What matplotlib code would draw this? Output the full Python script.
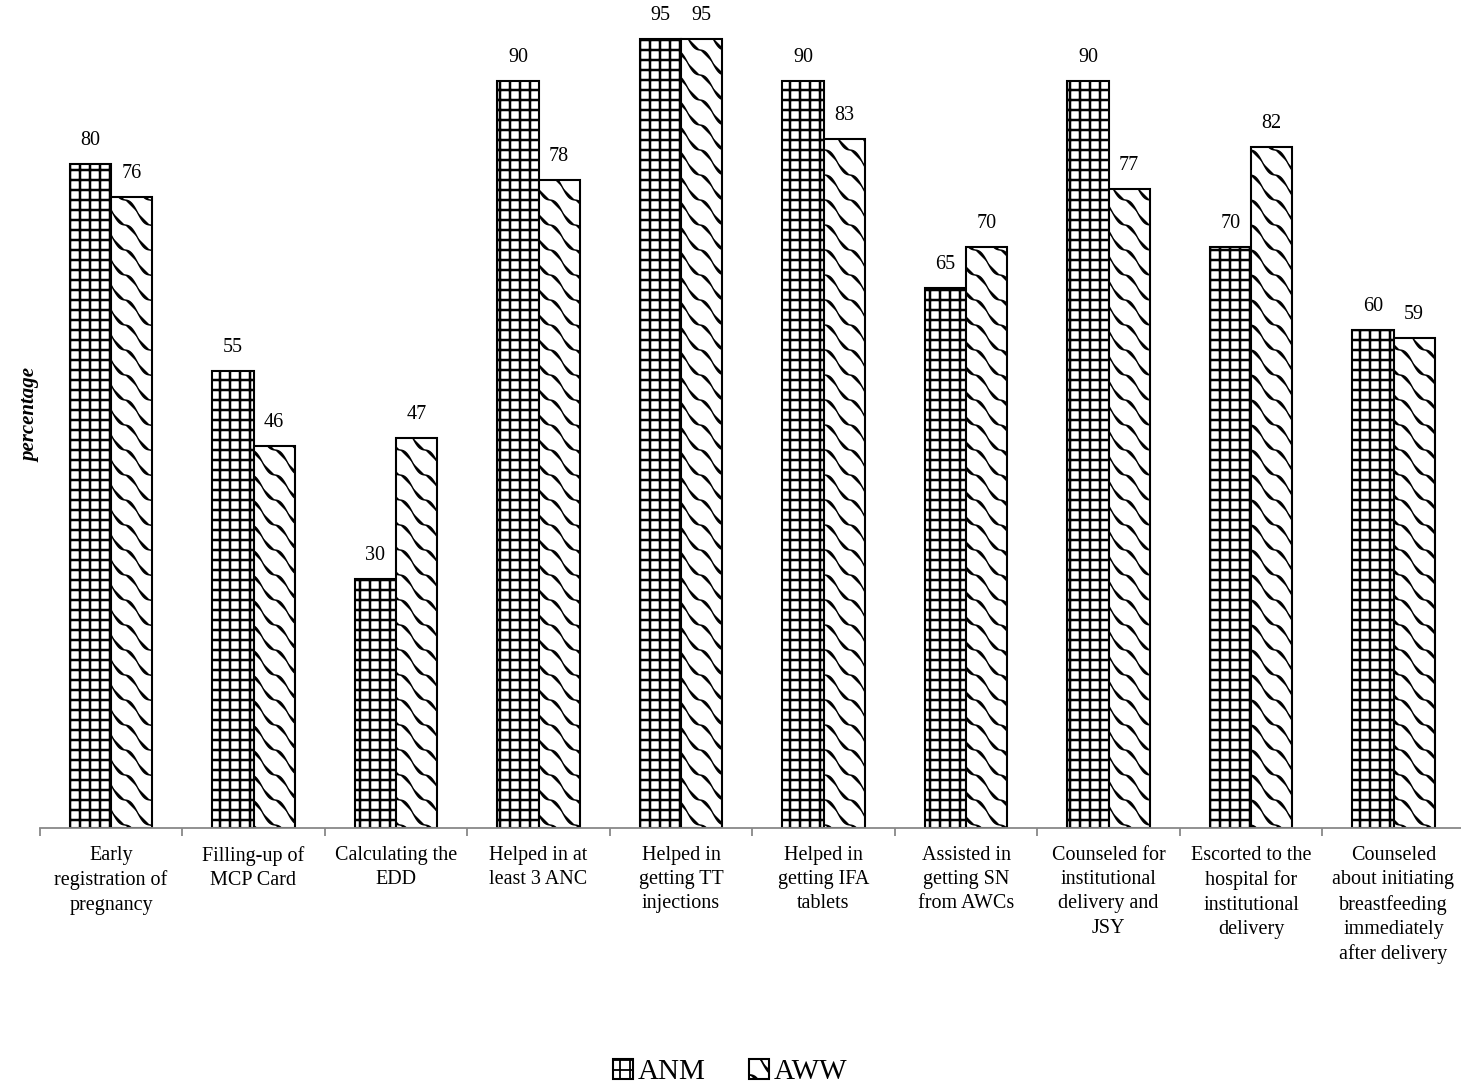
import warnings
warnings.filterwarnings("ignore")
import numpy as np
import matplotlib
matplotlib.use("Agg")
import matplotlib.pyplot as plt
import matplotlib.hatch as mhatch
from matplotlib.path import Path
from matplotlib.ticker import FixedLocator

categories = [
    "Early\nregistration of\npregnancy",
    "Filling-up of\nMCP Card",
    "Calculating the\nEDD",
    "Helped in at\nleast 3 ANC",
    "Helped in\ngetting TT\ninjections",
    "Helped in\ngetting IFA\ntablets",
    "Assisted in\ngetting SN\nfrom AWCs",
    "Counseled for\ninstitutional\ndelivery and\nJSY",
    "Escorted to the\nhospital for\ninstitutional\ndelivery",
    "Counseled\nabout initiating\nbreastfeeding\nimmediately\nafter delivery",
]
anm = [80, 55, 30, 90, 95, 90, 65, 90, 70, 60]
aww = [76, 46, 47, 78, 95, 83, 70, 77, 82, 59]


class WaveHatch(mhatch.HatchPatternBase):
    """Wavy diagonal hatch, triggered by 'w' characters."""
    def __init__(self, hatch, density):
        n = hatch.count('w')
        self.n_lines = 4 * n
        self.pts = 81
        if n:
            self.cs = np.arange(-1, 2 * self.n_lines + 2) / self.n_lines
            self.num_vertices = len(self.cs) * self.pts
        else:
            self.num_vertices = 0

    def set_vertices_and_codes(self, vertices, codes):
        x = np.linspace(0, 1, self.pts)
        i = 0
        for c in self.cs:
            y = c - x + 0.035 * np.sin(2 * np.pi * 4 * x)
            vertices[i:i + self.pts, 0] = x
            vertices[i:i + self.pts, 1] = y
            codes[i] = Path.MOVETO
            codes[i + 1:i + self.pts] = Path.LINETO
            i += self.pts


class GridHatch(mhatch.HatchPatternBase):
    """Square grid hatch with 10 lines per tile, triggered by 'g'."""
    def __init__(self, hatch, density):
        n = hatch.count('g')
        self.n = 10 * n
        self.num_vertices = (self.n + 1) * 4 if n else 0

    def set_vertices_and_codes(self, vertices, codes):
        steps = np.linspace(0, 1, self.n + 1)
        i = 0
        for s in steps:
            vertices[i] = (0, s); vertices[i + 1] = (1, s)
            codes[i] = Path.MOVETO; codes[i + 1] = Path.LINETO
            i += 2
        for s in steps:
            vertices[i] = (s, 0); vertices[i + 1] = (s, 1)
            codes[i] = Path.MOVETO; codes[i + 1] = Path.LINETO
            i += 2


mhatch._hatch_types.append(WaveHatch)
mhatch._hatch_types.append(GridHatch)

plt.rcParams['font.family'] = ['Liberation Serif', 'DejaVu Serif']
plt.rcParams['hatch.linewidth'] = 1.3

W, H = 1461, 1089
fig = plt.figure(figsize=(W / 100, H / 100), dpi=100)
left = 39.75 / W
width = 1425 / W
bottom = (H - 828) / H
height = 830.5 / H
ax = fig.add_axes([left, bottom, width, height])

x = np.arange(len(categories))
bw = 0.288
b1 = ax.bar(x - bw / 2, anm, bw, facecolor='white', edgecolor='black',
            linewidth=1.5, hatch='g', label='ANM')
b2 = ax.bar(x + bw / 2, aww, bw, facecolor='white', edgecolor='black',
            linewidth=1.5, hatch='w', label='AWW')
for r in b1:
    try:
        r.set_hatch_linewidth(1.8)
    except Exception:
        pass
for r in b2:
    try:
        r.set_hatch_linewidth(1.0)
    except Exception:
        pass

for bars, vals in ((b1, anm), (b2, aww)):
    for r, v in zip(bars, vals):
        ax.annotate(f"{v}", (r.get_x() + r.get_width() / 2, v),
                    xytext=(0, 10), textcoords='offset points',
                    ha='center', va='bottom', fontsize=14.5)

ax.set_xlim(-0.5, len(categories) - 0.5)
ax.set_ylim(0, 100)
ax.set_xticks(x)
ax.set_xticklabels(categories, fontsize=14.5, linespacing=1.37)
ax.tick_params(axis='x', which='major', length=0, pad=13)
ax.xaxis.set_minor_locator(FixedLocator(np.arange(-0.5, len(categories), 1.0)))
ax.tick_params(axis='x', which='minor', length=6, width=1.3, color='#888888',
               direction='out')
ax.set_yticks([])
for s in ('top', 'right', 'left'):
    ax.spines[s].set_visible(False)
ax.spines['bottom'].set_color('#888888')
ax.spines['bottom'].set_linewidth(1.3)

fig.text(30 / W, 1 - 415 / H, "percentage", rotation=90, fontsize=15,
         fontweight='bold', fontstyle='italic', ha='center', va='center')

leg = fig.legend(handles=[b1, b2], labels=['ANM', 'AWW'], loc='center',
                 bbox_to_anchor=(730 / W, 1 - 1072 / H), ncol=2, frameon=False,
                 fontsize=21, handlelength=0.7, handleheight=0.7,
                 handletextpad=0.15, columnspacing=1.5)

fig.savefig("out.png", dpi=100)
